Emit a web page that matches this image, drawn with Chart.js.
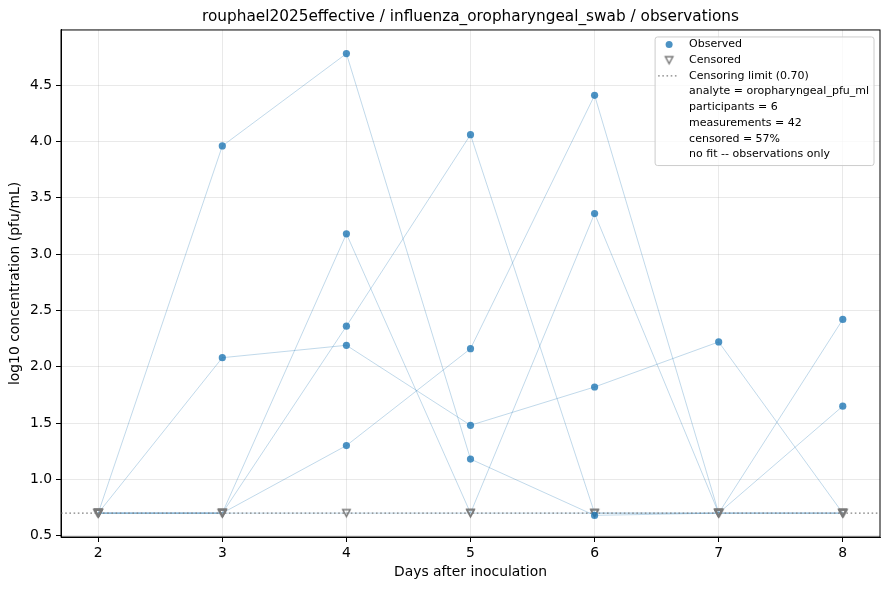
<!DOCTYPE html>
<html>
<head>
<meta charset="utf-8">
<script src="https://cdn.jsdelivr.net/npm/chart.js@4.4.1/dist/chart.umd.min.js"></script>
<style>
  html, body { margin: 0; padding: 0; background: #fff; }
  #wrap { width: 889px; height: 590px; position: relative; }
</style>
</head>
<body>
<div id="wrap"><canvas id="obsChart"></canvas></div>
<script>
// === data (log10 pfu/mL), null = censored below the limit ===
const days = [2, 3, 4, 5, 6, 7, 8];
const subjA = [null, 3.96, 4.78, 1.18, 0.68, null, null];
const subjB = [null, 2.08, 2.19, 1.48, 1.82, 2.22, null];
const subjC = [null, null, 3.18, null, 3.36, null, 2.42];
const subjD = [null, null, 2.36, 4.06, null, null, 1.65];
const subjE = [null, null, 1.30, 2.16, 4.41, null, null];
const subjF = [null, null, null, null, null, null, null];
const subjects = [subjA, subjB, subjC, subjD, subjE, subjF];

const LIMIT = 0.70;
const xTicks = [2, 3, 4, 5, 6, 7, 8];
const yTicks = [0.5, 1.0, 1.5, 2.0, 2.5, 3.0, 3.5, 4.0, 4.5];
const X_MIN = 1.7, X_MAX = 8.3;
const Y_MIN = 0.488, Y_MAX = 4.99;

const FONT = 'DejaVu Sans';
Chart.defaults.font.family = FONT;
Chart.defaults.color = '#000';

// --- build the point lists ---
const observed = [];
const censored = [];
subjects.forEach(s => {
  s.forEach((v, i) => {
    if (v === null) censored.push({ x: days[i], y: LIMIT });
    else observed.push({ x: days[i], y: v });
  });
});
const nMeas = observed.length + censored.length;
const pctCens = Math.round(100 * censored.length / nMeas);

// down triangle marker, centred on its box like matplotlib 'v'
function triMarker() {
  const c = document.createElement('canvas');
  c.width = 13; c.height = 13;
  const g = c.getContext('2d');
  g.strokeStyle = '#7a7a7a';
  g.lineWidth = 1.5;
  g.lineJoin = 'miter';
  g.beginPath();
  g.moveTo(6.5 - 3.7, 3.0);
  g.lineTo(6.5 + 3.7, 3.0);
  g.lineTo(6.5, 10.0);
  g.closePath();
  g.stroke();
  return c;
}
const tri = triMarker();

const lineSets = subjects.map((s, k) => ({
  data: s.map((v, i) => ({ x: days[i], y: v === null ? LIMIT : v })),
  showLine: true,
  borderColor: 'rgba(31,119,180,0.28)',
  borderWidth: 1,
  pointRadius: 0,
  order: 10 + k
}));

// legend drawn inside the axes, top right
const legendBox = {
  id: 'legendBox',
  afterDraw(chart) {
    const ctx = chart.ctx;
    const area = chart.chartArea;
    const rows = [
      'Observed',
      'Censored',
      'Censoring limit (' + LIMIT.toFixed(2) + ')',
      'analyte = oropharyngeal_pfu_ml',
      'participants = ' + subjects.length,
      'measurements = ' + nMeas,
      'censored = ' + pctCens + '%',
      'no fit -- observations only'
    ];
    ctx.save();
    ctx.font = '11px "' + FONT + '"';
    let maxW = 0;
    rows.forEach(r => { maxW = Math.max(maxW, ctx.measureText(r).width); });
    const right = area.right - 6, top = area.top + 7;
    const textX = right - 5 - maxW;
    const left = textX - 34;
    const step = 15.7;
    const h = rows.length * step + 3;
    // box
    ctx.beginPath();
    ctx.roundRect(left, top, right - left, h, 2.5);
    ctx.fillStyle = 'rgba(255,255,255,0.8)';
    ctx.fill();
    ctx.strokeStyle = '#cccccc';
    ctx.lineWidth = 1;
    ctx.stroke();
    const mx = left + 14;
    const y0 = top + 7.5;
    // markers
    ctx.beginPath();
    ctx.arc(mx, y0, 3.5, 0, Math.PI * 2);
    ctx.fillStyle = 'rgba(31,119,180,0.8)';
    ctx.fill();
    ctx.drawImage(tri, mx - 6.5, y0 + step - 6.5);
    ctx.beginPath();
    ctx.setLineDash([1.6, 2.6]);
    ctx.strokeStyle = '#808080';
    ctx.lineWidth = 1.4;
    ctx.moveTo(mx - 11, y0 + 2 * step);
    ctx.lineTo(mx + 10, y0 + 2 * step);
    ctx.stroke();
    ctx.setLineDash([]);
    // texts
    ctx.fillStyle = '#000';
    ctx.textBaseline = 'middle';
    ctx.textAlign = 'left';
    rows.forEach((r, i) => ctx.fillText(r, textX, y0 + i * step));
    ctx.restore();
  }
};

// top and right spines
const frame = {
  id: 'frame',
  afterDraw(chart) {
    const { ctx, chartArea: a } = chart;
    ctx.save();
    ctx.strokeStyle = '#000';
    ctx.lineWidth = 1;
    ctx.strokeRect(a.left, a.top, a.right - a.left, a.bottom - a.top);
    ctx.restore();
  }
};

new Chart(document.getElementById('obsChart'), {
  type: 'scatter',
  data: {
    datasets: [
      {
        label: 'Observed',
        data: observed,
        pointRadius: 3.6,
        pointBackgroundColor: 'rgba(31,119,180,0.8)',
        pointBorderColor: 'rgba(31,119,180,0.8)',
        pointBorderWidth: 0,
        order: 0
      },
      {
        label: 'Censored',
        data: censored,
        pointStyle: tri,
        order: 1
      },
      {
        label: 'Censoring limit',
        data: [{ x: X_MIN, y: LIMIT }, { x: X_MAX, y: LIMIT }],
        showLine: true,
        borderColor: '#808080',
        borderWidth: 1.4,
        borderDash: [1.6, 2.6],
        pointRadius: 0,
        order: 2
      },
      ...lineSets
    ]
  },
  options: {
    responsive: true,
    maintainAspectRatio: false,
    animation: false,
    events: [],
    layout: { padding: { left: 0, right: 9, top: 0, bottom: 0 } },
    plugins: {
      legend: { display: false },
      tooltip: { enabled: false },
      title: {
        display: true,
        fullSize: false,
        text: 'rouphael2025effective / influenza_oropharyngeal_swab / observations',
        font: { size: 15.3, weight: 'normal' },
        color: '#000',
        padding: { top: 8, bottom: 3.6 }
      }
    },
    scales: {
      x: {
        type: 'linear',
        min: X_MIN,
        max: X_MAX,
        afterBuildTicks: s => { s.ticks = xTicks.map(v => ({ value: v })); },
        afterFit: s => { s.height = 53; },
        ticks: { font: { size: 13.9 }, color: '#000', padding: 3,
                 callback: v => String(v) },
        grid: { color: 'rgba(176,176,176,0.35)', lineWidth: 0.8,
                tickColor: '#000', tickLength: 5, tickWidth: 1 },
        border: { color: '#000', width: 1 },
        title: { display: true, text: 'Days after inoculation',
                 font: { size: 13.9 }, color: '#000', padding: { top: 0, bottom: 9.5 } }
      },
      y: {
        type: 'linear',
        min: Y_MIN,
        max: Y_MAX,
        afterBuildTicks: s => { s.ticks = yTicks.map(v => ({ value: v })); },
        afterFit: s => { s.width = 61; },
        ticks: { font: { size: 13.9 }, color: '#000', padding: 4,
                 callback: v => v.toFixed(1) },
        grid: { color: 'rgba(176,176,176,0.35)', lineWidth: 0.8,
                tickColor: '#000', tickLength: 5, tickWidth: 1 },
        border: { color: '#000', width: 1 },
        title: { display: true, text: 'log10 concentration (pfu/mL)',
                 font: { size: 13.9 }, color: '#000', padding: { top: 6.7, bottom: 0 } }
      }
    }
  },
  plugins: [frame, legendBox]
});
</script>
</body>
</html>
